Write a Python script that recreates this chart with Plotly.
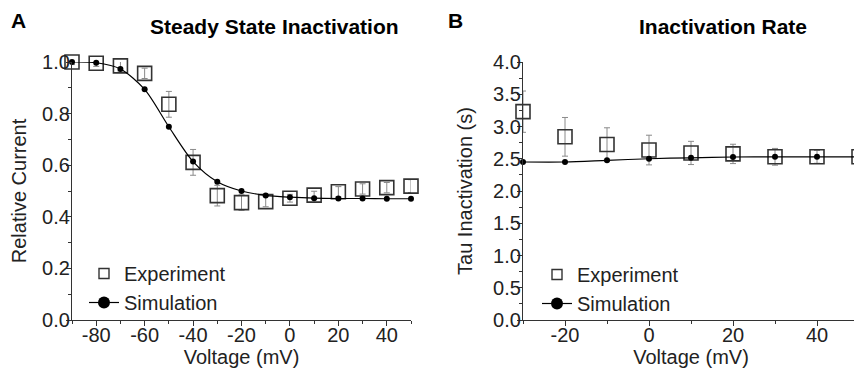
import plotly.graph_objects as go

# Panel A: steady state inactivation
volt_a = [-90, -80, -70, -60, -50, -40, -30, -20, -10, 0, 10, 20, 30, 40, 50]
exp_a = [1.0, 0.995, 0.985, 0.956, 0.836, 0.611, 0.482, 0.455, 0.459, 0.472, 0.484, 0.497, 0.508, 0.513, 0.519]
exp_a_err = [0.01, 0.012, 0.02, 0.02, 0.05, 0.05, 0.04, 0.03, 0.02, 0.015, 0.015, 0.02, 0.02, 0.02, 0.025]
sim_a = [1.0, 0.997, 0.973, 0.894, 0.749, 0.614, 0.536, 0.5, 0.483, 0.476, 0.472, 0.471, 0.471, 0.47, 0.47]
ticks_x_a = [-80, -60, -40, -20, 0, 20, 40]
ticks_y_a = [0, 0.2, 0.4, 0.6, 0.8, 1.0]

# Panel B: inactivation rate
volt_b = [-30, -20, -10, 0, 10, 20, 30, 40, 50]
exp_b = [3.23, 2.84, 2.72, 2.635, 2.59, 2.575, 2.53, 2.53, 2.53]
exp_b_err = [0.32, 0.3, 0.26, 0.23, 0.18, 0.15, 0.13, 0.1, 0.08]
sim_b = [2.45, 2.45, 2.475, 2.50, 2.515, 2.527, 2.53, 2.53, 2.53]
ticks_x_b = [-20, 0, 20, 40]
ticks_y_b = [0, 0.5, 1.0, 1.5, 2.0, 2.5, 3.0, 3.5, 4.0]

FONT = "Liberation Sans, Arial, sans-serif"
OFF = 8  # page body margin
W, H = 862 - OFF, 369 - OFF
FS = 20


def px(x):
    return (x - OFF) / W


def py(y):
    return 1 - (y - OFF) / H


fig = go.Figure()


def add_panel(xs, ex, ee, sim, xa, ya, legend):
    fig.add_trace(go.Scatter(
        x=xs, y=ex, mode="markers", xaxis=xa, yaxis=ya, showlegend=False,
        cliponaxis=False,
        error_y=dict(type="data", array=ee, color="#8a8a8a", thickness=1, width=3),
        marker=dict(symbol="square-open", size=14, color="#333333", line=dict(width=1.6, color="#333333")),
    ))
    fig.add_trace(go.Scatter(
        x=xs, y=sim, mode="lines+markers", xaxis=xa, yaxis=ya, showlegend=False,
        cliponaxis=False,
        line=dict(color="black", width=1.2, shape="spline", smoothing=0.8),
        marker=dict(symbol="circle", size=6, color="black"),
    ))
    # legend entries
    fig.add_trace(go.Scatter(
        x=[None], y=[None], mode="markers", xaxis=xa, yaxis=ya, name="Experiment", legend=legend,
        marker=dict(symbol="square-open", size=10, color="#333333", line=dict(width=1.4, color="#333333")),
    ))
    fig.add_trace(go.Scatter(
        x=[None], y=[None], mode="lines+markers", xaxis=xa, yaxis=ya, name="Simulation", legend=legend,
        line=dict(color="black", width=1.2),
        marker=dict(symbol="circle", size=12, color="black"),
    ))


add_panel(volt_a, exp_a, exp_a_err, sim_a, "x", "y", "legend")
add_panel(volt_b, exp_b, exp_b_err, sim_b, "x2", "y2", "legend2")


def labels(vals, fmt):
    return [fmt.format(v) for v in vals]


ydom = [py(320), py(62)]
axis_common = dict(
    showline=True, linecolor="#333333", linewidth=1.2, ticks="outside", ticklen=5, tickwidth=1,
    tickcolor="#333333", showgrid=False, zeroline=False, mirror=False, automargin=False,
    tickfont=dict(family=FONT, size=FS, color="#222222"),
    title_font=dict(family=FONT, size=FS, color="#222222"),
)
minor_common = dict(ticks="outside", ticklen=3, tickcolor="#333333", showgrid=False)

fig.update_layout(
    width=W, height=H, margin=dict(l=0, r=0, t=0, b=0),
    plot_bgcolor="white", paper_bgcolor="white",
    font=dict(family=FONT, size=FS, color="#222222"),
    xaxis=dict(domain=[px(72), px(411)], range=[-90, 50], tickvals=ticks_x_a, ticktext=labels(ticks_x_a, "{:d}"),
               minor=dict(dtick=10, tick0=-90, **minor_common), ticklabelstandoff=-8,
               title=dict(text="Voltage (mV)", standoff=0), anchor="y", **axis_common),
    yaxis=dict(domain=ydom, range=[0, 1.0], tickvals=ticks_y_a, ticktext=labels(ticks_y_a, "{:.1f}"),
               minor=dict(dtick=0.1, tick0=0, **minor_common), ticklabelstandoff=-8,
               title=dict(text="Relative Current", standoff=11), anchor="x", **axis_common),
    xaxis2=dict(domain=[px(523), px(859)], range=[-30, 50], tickvals=ticks_x_b, ticktext=labels(ticks_x_b, "{:d}"),
                minor=dict(dtick=10, tick0=-30, **minor_common), ticklabelstandoff=-8,
                title=dict(text="Voltage (mV)", standoff=0), anchor="y2", **axis_common),
    yaxis2=dict(domain=ydom, range=[0, 4.0], tickvals=ticks_y_b, ticktext=labels(ticks_y_b, "{:.1f}"),
                minor=dict(dtick=0.25, tick0=0, **minor_common), ticklabelstandoff=-8,
                title=dict(text="Tau Inactivation (s)", standoff=15), anchor="x2", **axis_common),
    legend=dict(x=px(84), y=py(254), xanchor="left", yanchor="top", bgcolor="rgba(0,0,0,0)",
                font=dict(family=FONT, size=FS, color="#222222"), tracegroupgap=0, itemwidth=30),
    legend2=dict(x=px(537), y=py(255), xanchor="left", yanchor="top", bgcolor="rgba(0,0,0,0)",
                 font=dict(family=FONT, size=FS, color="#222222"), tracegroupgap=0, itemwidth=30),
    annotations=[
        dict(text="<b>A</b>", x=px(9), y=py(20), xref="paper", yref="paper", showarrow=False,
             xanchor="left", yanchor="middle", font=dict(family=FONT, size=21, color="black")),
        dict(text="<b>Steady State Inactivation</b>", x=px(274), y=py(27), xref="paper", yref="paper",
             showarrow=False, xanchor="center", yanchor="middle", font=dict(family=FONT, size=21, color="black")),
        dict(text="<b>B</b>", x=px(446), y=py(20), xref="paper", yref="paper", showarrow=False,
             xanchor="left", yanchor="middle", font=dict(family=FONT, size=21, color="black")),
        dict(text="<b>Inactivation Rate</b>", x=px(723), y=py(27), xref="paper", yref="paper",
             showarrow=False, xanchor="center", yanchor="middle", font=dict(family=FONT, size=21, color="black")),
    ],
)

fig.write_html("out.html")
